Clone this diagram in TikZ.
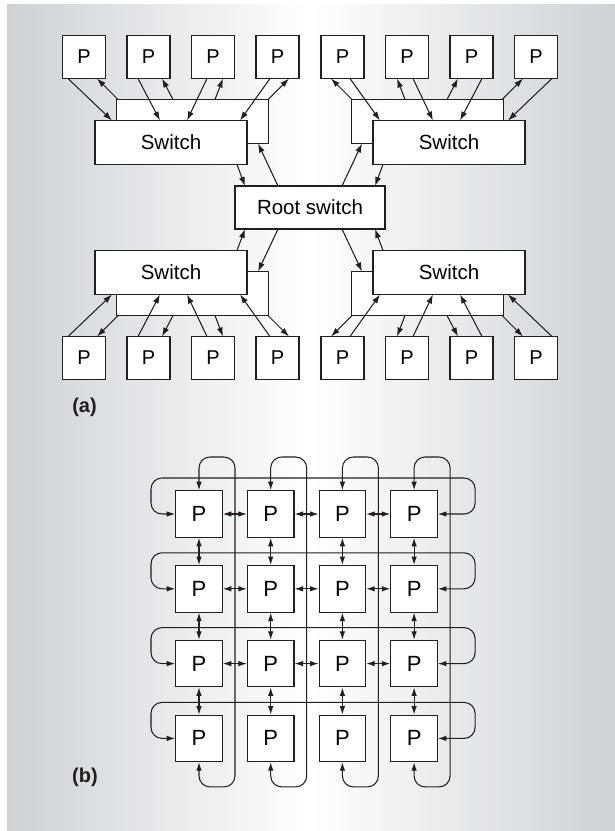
\documentclass[tikz,border=0pt]{standalone}
\usepackage{fontspec}
\setmainfont{Liberation Sans}
\usetikzlibrary{arrows.meta,calc}
\definecolor{ink}{RGB}{35,31,32}
\definecolor{bgedge}{RGB}{208,209,211}
\begin{document}
\begin{tikzpicture}[x=1pt,y=-1pt,
  pbox/.style={draw=ink, fill=white, line width=1.1pt, minimum width=43pt, minimum height=43pt, inner sep=0pt, font=\fontsize{20}{22}\selectfont},
  gbox/.style={draw=ink, fill=white, line width=1.1pt, minimum width=46.5pt, minimum height=46.5pt, inner sep=0pt, font=\fontsize{22}{24}\selectfont},
  swbox/.style={draw=ink, fill=white, line width=1.1pt, minimum width=152pt, minimum height=44pt, inner sep=0pt, font=\fontsize{20.5}{24}\selectfont},
  arr/.style={draw=ink, line width=1.05pt, -{Latex[length=9pt,width=6pt]}},
  darr/.style={draw=ink, line width=1.05pt, {Latex[length=8.5pt,width=5.5pt]}-{Latex[length=8.5pt,width=5.5pt]}},
  lbl/.style={font=\fontsize{20}{24}\selectfont\bfseries, text=ink, inner sep=0pt}
]
% background panel
\path[fill=white] (0,0) rectangle (615,831);
\useasboundingbox (0,0) rectangle (615,831);
\shade[left color=bgedge, right color=bgedge, middle color=white] (7,4) rectangle (615,831);

% ---------- (a) ----------
\node[swbox, minimum width=150pt, minimum height=43pt] (R) at (310,207.5) {Root switch};
\foreach \grp/\sx/\sy in {a/1/1, b/-1/1, c/1/-1, d/-1/-1} {
  \node[swbox] (B\grp) at ({310+\sx*(-117.5)},{207.5+\sy*(-86)}) {};
  \node[swbox] (F\grp) at ({310+\sx*(-139)},{207.5+\sy*(-65)}) {Switch};
  \foreach \i/\px in {1/-226, 2/-161.5, 3/-97, 4/-32.5}
    \node[pbox] (P\grp\i) at ({310+\sx*(\px)},{207.5+\sy*(-150.5)}) {P};
}
\foreach \grp/\sx/\sy in {a/1/1, b/-1/1, c/1/-1, d/-1/-1} {
  \foreach \s/\a/\b/\e/\c/\d in {
      P\grp1/-16/21.5/F\grp/-59/-22,
      B\grp/-74.5/-22/P\grp1/13/21.5,
      P\grp2/-10.5/21.5/F\grp/-11/-22,
      B\grp/-19.5/-22/P\grp2/13.5/21.5,
      P\grp3/-6/21.5/F\grp/16/-22,
      B\grp/22.5/-22/P\grp3/10/21.5,
      P\grp4/-7.5/21.5/F\grp/69/-22,
      B\grp/75.5/-22/P\grp4/11.5/21.5,
      F\grp/66/22/R/-65/-21.5,
      R/-32/-21.5/B\grp/65.5/22}
    \draw[arr] ($(\s.center)+({\sx*(\a)},{\sy*(\b)})$) -- ($(\e.center)+({\sx*(\c)},{\sy*(\d)})$);
}
\node[lbl] (la) at (84.5,407) {(a)};

% ---------- (b) ----------
\foreach \r in {1,...,4}
  \foreach \c in {1,...,4}
    \node[gbox] (Q\r\c) at ({199+71.7*(\c-1)},{514+74.8*(\r-1)}) {P};
\foreach \r in {1,2,3}
  \foreach \c/\n in {1/2,2/3,3/4}
    \draw[darr] (Q\r\c.east) -- (Q\r\n.west);
\foreach \r/\n in {1/2,2/3,3/4}
  \foreach \c in {1,...,4}
    \draw[darr] (Q\r\c.south) -- (Q\n\c.north);
\foreach \c in {1,...,4}
  \draw[darr, rounded corners=11pt] (Q1\c.north) |- ($(Q1\c.center)+(36,-57)$) -- ($(Q4\c.center)+(36,48.5)$) -| (Q4\c.south);
\foreach \r in {1,...,4}
  \draw[darr, rounded corners=11pt] (Q\r1.west) -| ($(Q\r1.center)+(-48,-36)$) -- ($(Q\r4.center)+(61,-36)$) |- (Q\r4.east);
\node[lbl] (lb) at (85,777) {(b)};
\end{tikzpicture}
\end{document}
